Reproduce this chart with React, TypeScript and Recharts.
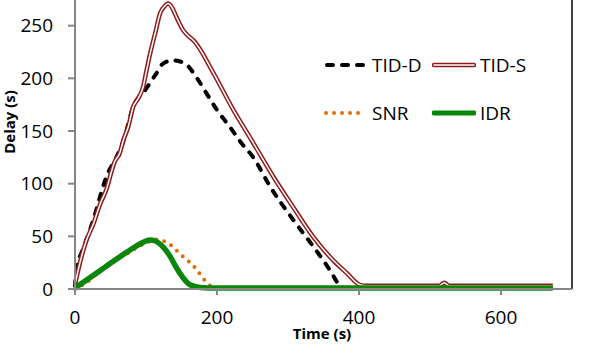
import React from 'react'
import { LineChart, Line, XAxis, YAxis, ReferenceLine } from 'recharts'

// values
const tidDTime = [0, 4, 9, 21, 30, 38, 47, 56, 68, 82, 99, 113, 124, 138, 155, 171, 185, 200, 218, 235, 251, 275, 307, 336, 359, 371, 380, 392, 500, 600, 670]
const tidDDelay = [3, 25, 34, 56, 75, 94, 111, 122, 140, 173, 189, 203, 214, 217, 214, 201, 186, 170, 154, 138, 125, 97, 66, 40, 18, 5, 1, 1, 1, 1, 1]

const tidSTime = [0, 7, 16, 26, 35, 45, 52, 56, 63, 68, 75, 82, 89, 96, 100, 106, 113, 120, 127, 131, 136, 143, 152, 160, 167, 195, 223, 249, 279, 307, 335, 364, 383, 401, 410, 500, 513, 520, 527, 600, 673]
const tidSDelay = [4, 25, 46, 62, 80, 96, 113, 121, 129, 141, 154, 173, 181, 192, 205, 224, 243, 262, 269, 271, 268, 258, 246, 240, 236, 205, 170, 141, 107, 78, 50, 27, 15, 4, 3, 3, 3, 6, 3, 3, 3]

const snrTime = [0, 20, 33, 45, 54, 66, 77, 89, 101, 114, 127, 138, 147, 157, 167, 175, 183, 193, 200]
const snrDelay = [0, 8, 16, 21, 26, 31, 35, 40, 44, 47, 45, 40, 34, 28, 22, 15, 8, 2, 0]

const idrTime = [0, 26, 49, 73, 92, 106, 115, 124, 134, 143, 153, 162, 176, 200, 300, 400, 500, 600, 673]
const idrDelay = [1, 13, 24, 35, 43, 46.5, 45, 40, 31, 20, 10, 4, 1.5, 1, 1, 1, 1, 1, 1]

const xTicks = [0, 200, 400, 600]
const yTicks = [0, 50, 100, 150, 200, 250]

const toPoints = (xs: number[], ys: number[]) => xs.map((t, i) => ({ t, d: ys[i] }))

const tidD = toPoints(tidDTime, tidDDelay)
const tidS = toPoints(tidSTime, tidSDelay)
const snr = toPoints(snrTime, snrDelay)
const idr = toPoints(idrTime, idrDelay)

const COLORS = {
  tidD: '#000000',
  tidS: '#8E1B1B',
  snr: '#E36C09',
  idr: '#0A860A',
  axis: '#868686',
}

const FONT = '"Open Sans", sans-serif'

function LegendBox() {
  const item = (swatch: React.ReactNode, label: string, left: number, top: number) => (
    <div style={{ position: 'absolute', left, top, display: 'flex', alignItems: 'center' }}>
      <svg width={44} height={10}>{swatch}</svg>
      <span style={{ marginLeft: 4, fontSize: 19, fontFamily: FONT, color: '#000', lineHeight: '20px' }}>
        {label}
      </span>
    </div>
  )
  return (
    <div style={{ position: 'absolute', left: 324, top: 55, width: 230, height: 80 }}>
      {item(
        <line x1={3} y1={5} x2={42} y2={5} stroke={COLORS.tidD} strokeWidth={4} strokeDasharray="6 9" strokeLinecap="round" />,
        'TID-D', 0, 0
      )}
      {item(
        <>
          <line x1={2} y1={5} x2={42} y2={5} stroke={COLORS.tidS} strokeWidth={4.5} strokeLinecap="round" />
          <line x1={2} y1={5} x2={42} y2={5} stroke="#fff" strokeWidth={1.5} strokeLinecap="round" />
        </>,
        'TID-S', 108, 0
      )}
      {item(
        <line x1={2} y1={5} x2={42} y2={5} stroke={COLORS.snr} strokeWidth={4} strokeDasharray="0 8" strokeLinecap="round" />,
        'SNR', 0, 48
      )}
      {item(
        <line x1={2} y1={5} x2={42} y2={5} stroke={COLORS.idr} strokeWidth={5} strokeLinecap="round" />,
        'IDR', 108, 48
      )}
    </div>
  )
}

export default function App() {
  return (
    <div style={{ position: 'relative', width: 598, height: 355, overflow: 'hidden', background: '#fff' }}>
      <style>{'body{margin:0}'}</style>
      <LineChart
        width={598}
        height={382}
        margin={{ top: 0, right: 26, bottom: 0, left: 0 }}
        style={{ position: 'absolute', top: -27, left: 0 }}
      >
        <XAxis
          type="number"
          dataKey="t"
          domain={[0, 700]}
          ticks={xTicks}
          height={66}
          stroke={COLORS.axis}
          strokeWidth={2}
          tickSize={6}
          tickMargin={16}
          tick={{ fill: '#000', fontSize: 19, fontFamily: FONT }}
          allowDuplicatedCategory={false}
        />
        <YAxis
          type="number"
          dataKey="d"
          domain={[0, 300]}
          ticks={yTicks}
          width={75}
          stroke={COLORS.axis}
          strokeWidth={2}
          tickSize={7}
          tickMargin={15}
          tick={{ fill: '#000', fontSize: 19, fontFamily: FONT }}
        />
        <ReferenceLine x={700} stroke="#000" strokeWidth={1.5} />
        <Line data={tidD} dataKey="d" type="monotone" stroke={COLORS.tidD} strokeWidth={4}
          strokeDasharray="6 9" strokeLinecap="round" dot={false} isAnimationActive={false} />
        <Line data={tidS} dataKey="d" type="monotone" stroke={COLORS.tidS} strokeWidth={4.5}
          dot={false} isAnimationActive={false} />
        <Line data={tidS} dataKey="d" type="monotone" stroke="#ffffff" strokeWidth={1.5}
          dot={false} isAnimationActive={false} />
        <Line data={snr} dataKey="d" type="monotone" stroke={COLORS.snr} strokeWidth={4}
          strokeDasharray="0 8" strokeLinecap="round" dot={false} isAnimationActive={false} />
        <Line data={idr} dataKey="d" type="monotone" stroke={COLORS.idr} strokeWidth={5.5}
          dot={false} isAnimationActive={false} />
      </LineChart>
      <LegendBox />
      <div style={{ position: 'absolute', left: 322, top: 326, transform: 'translateX(-50%)', fontFamily: FONT, fontWeight: 700, fontSize: 15, lineHeight: '15px', whiteSpace: 'nowrap' }}>
        Time (s)
      </div>
      <div style={{ position: 'absolute', left: 9, top: 122, transform: 'translate(-50%, -50%) rotate(-90deg)', fontFamily: FONT, fontWeight: 700, fontSize: 15, lineHeight: '15px', whiteSpace: 'nowrap' }}>
        Delay (s)
      </div>
    </div>
  )
}
